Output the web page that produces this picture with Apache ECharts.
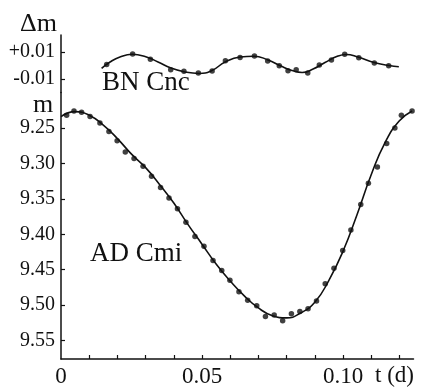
<!DOCTYPE html>
<html>
<head>
<meta charset="utf-8">
<script src="https://cdn.jsdelivr.net/npm/echarts@6/dist/echarts.min.js"></script>
<style>
  html, body { margin: 0; padding: 0; background: #fff; }
  #chart { width: 432px; height: 389px; }
</style>
</head>
<body>
<div id="chart"></div>
<script>
// BN Cnc: observed points (t in days, delta mag)
var bnT = [0.0162, 0.0254, 0.0317, 0.0389, 0.0436, 0.0487, 0.0536, 0.0583, 0.0635, 0.0686, 0.0733,
  0.0774, 0.0805, 0.0834, 0.0875, 0.0916, 0.0959, 0.1006, 0.1056, 0.1111, 0.1162];
var bnDm = [0.0007, 0.0085, 0.0047, -0.0031, -0.0043, -0.0056, -0.0041, 0.0035, 0.0059, 0.0070, 0.0033,
  -0.0002, -0.0039, -0.0031, -0.0056, 0.0004, 0.0041, 0.0084, 0.0058, 0.0019, -0.0002];
// BN Cnc: fitted curve
var bnFitT = [0.0144, 0.0174, 0.0209, 0.0252, 0.0298, 0.0344, 0.0390, 0.0440, 0.0489, 0.0535, 0.0582,
  0.0635, 0.0684, 0.0734, 0.0780, 0.0819, 0.0855, 0.0894, 0.0936, 0.0982, 0.1011, 0.1053, 0.1110, 0.1163, 0.1198];
var bnFitDm = [-0.0021, 0.0026, 0.0063, 0.0083, 0.0067, 0.0026, -0.0019, -0.0048, -0.0059, -0.0037, 0.0026,
  0.0063, 0.0069, 0.0041, -0.0004, -0.0037, -0.0052, -0.0026, 0.0022, 0.0070, 0.0082, 0.0063, 0.0022, 0.0000, -0.0009];

// AD Cmi: observed points (t in days, mag)
var adT = [0.0020, 0.0046, 0.0073, 0.0103, 0.0138, 0.0170, 0.0199, 0.0228, 0.0259, 0.0291, 0.0321,
  0.0353, 0.0383, 0.0413, 0.0443, 0.0475, 0.0507, 0.0539, 0.0570, 0.0599, 0.0631, 0.0662, 0.0694,
  0.0725, 0.0756, 0.0786, 0.0817, 0.0847, 0.0876, 0.0906, 0.0937, 0.0968, 0.0999, 0.1028, 0.1063,
  0.1090, 0.1122, 0.1155, 0.1184, 0.1207, 0.1245];
var adMag = [9.232, 9.226, 9.228, 9.234, 9.243, 9.255, 9.268, 9.284, 9.293, 9.304, 9.318,
  9.334, 9.349, 9.364, 9.383, 9.403, 9.417, 9.437, 9.451, 9.465, 9.481, 9.493, 9.501,
  9.516, 9.514, 9.522, 9.512, 9.509, 9.505, 9.494, 9.470, 9.448, 9.423, 9.394, 9.358,
  9.328, 9.305, 9.272, 9.250, 9.232, 9.226];
// AD Cmi: fitted curve
var adFitT = [0.000, 0.005, 0.010, 0.015, 0.020, 0.025, 0.030, 0.035, 0.040, 0.045, 0.050, 0.055, 0.060,
  0.065, 0.070, 0.075, 0.080, 0.085, 0.090, 0.095, 0.100, 0.105, 0.110, 0.115, 0.120, 0.1245];
var adFitMag = [9.234, 9.227, 9.232, 9.246, 9.265, 9.287, 9.306, 9.330, 9.356, 9.386, 9.414, 9.442, 9.466,
  9.487, 9.504, 9.515, 9.518, 9.511, 9.496, 9.465, 9.424, 9.372, 9.316, 9.270, 9.240, 9.226];

// axis ticks and labels
var tTicks = [0.01, 0.02, 0.03, 0.04, 0.05, 0.06, 0.07, 0.08, 0.09, 0.10, 0.11, 0.12];
var tLabels = [0, 0.05, 0.10];
var dmLabels = [0.01, -0.01];
var magLabels = [9.25, 9.30, 9.35, 9.40, 9.45, 9.50, 9.55];

var chart = echarts.init(document.getElementById('chart'));

function pairs(xs, ys) {
  return xs.map(function (x, i) { return [x, ys[i]]; });
}

// only print a label when the tick value is one of the listed ones
function pick(list, fmt) {
  return function (v) {
    for (var i = 0; i < list.length; i++) {
      if (Math.abs(list[i] - v) < 1e-6) return '{s|' + fmt(list[i]) + '}';
    }
    return '';
  };
}

var ink = '#111';
var font = 'Liberation Serif';

function serif(size) {
  return { s: { fontFamily: font, fontSize: size, color: ink } };
}

var option = {
  animation: false,
  textStyle: { fontFamily: font, color: ink },
  grid: [
    { left: 61, right: 18.5, top: 35, height: 57.5 },
    { left: 61, right: 18.5, top: 92.5, bottom: 30 }
  ],
  xAxis: [
    { gridIndex: 0, type: 'value', min: 0, max: 0.125, show: false },
    {
      gridIndex: 1, type: 'value', min: 0, max: 0.125, interval: 0.05,
      axisLine: { lineStyle: { color: ink, width: 1.5 } },
      axisTick: { inside: true, length: 4, customValues: tTicks, lineStyle: { color: ink, width: 1.2 } },
      axisLabel: {
        margin: 6, rich: serif(23),
        formatter: pick(tLabels, function (v) { return v === 0 ? '0' : v.toFixed(2); })
      },
      splitLine: { show: false }
    }
  ],
  yAxis: [
    {
      gridIndex: 0, type: 'value', min: -0.02, max: 0.0226, interval: 0.01,
      axisLine: { show: true, lineStyle: { color: ink, width: 1.5 } },
      axisTick: { show: true, inside: true, length: 4, customValues: dmLabels, lineStyle: { color: ink, width: 1.2 } },
      axisLabel: {
        margin: 6, rich: serif(20),
        formatter: pick(dmLabels, function (v) { return (v > 0 ? '+' : '') + v.toFixed(2); })
      },
      splitLine: { show: false }
    },
    {
      gridIndex: 1, type: 'value', inverse: true, min: 9.2, max: 9.576, interval: 0.05,
      axisLine: { show: true, lineStyle: { color: ink, width: 1.5 } },
      axisTick: { show: true, inside: true, length: 4, customValues: magLabels, lineStyle: { color: ink, width: 1.2 } },
      axisLabel: {
        margin: 6, rich: serif(20),
        formatter: pick(magLabels, function (v) { return v.toFixed(2); })
      },
      splitLine: { show: false }
    }
  ],
  graphic: [
    { type: 'text', left: 20, top: 11, style: { text: 'Δm', fill: ink, font: '26px "Liberation Serif"' } },
    { type: 'text', left: 33, top: 92, style: { text: 'm', fill: ink, font: '26px "Liberation Serif"' } },
    { type: 'text', left: 102, top: 69, style: { text: 'BN Cnc', fill: ink, font: '27px "Liberation Serif"' } },
    { type: 'text', left: 90, top: 240, style: { text: 'AD Cmi', fill: ink, font: '27px "Liberation Serif"' } },
    { type: 'text', left: 375, top: 364, style: { text: 't (d)', fill: ink, font: '23px "Liberation Serif"' } }
  ],
  series: [
    {
      type: 'line', xAxisIndex: 0, yAxisIndex: 0, data: pairs(bnFitT, bnFitDm),
      smooth: true, showSymbol: false, lineStyle: { color: ink, width: 1.6 }
    },
    {
      type: 'scatter', xAxisIndex: 0, yAxisIndex: 0, data: pairs(bnT, bnDm),
      symbolSize: 5.5, itemStyle: { color: ink }
    },
    {
      type: 'line', xAxisIndex: 1, yAxisIndex: 1, data: pairs(adFitT, adFitMag),
      smooth: true, showSymbol: false, lineStyle: { color: ink, width: 1.6 }
    },
    {
      type: 'scatter', xAxisIndex: 1, yAxisIndex: 1, data: pairs(adT, adMag),
      symbolSize: 5.5, itemStyle: { color: ink }
    }
  ]
};

chart.setOption(option);
</script>
</body>
</html>
